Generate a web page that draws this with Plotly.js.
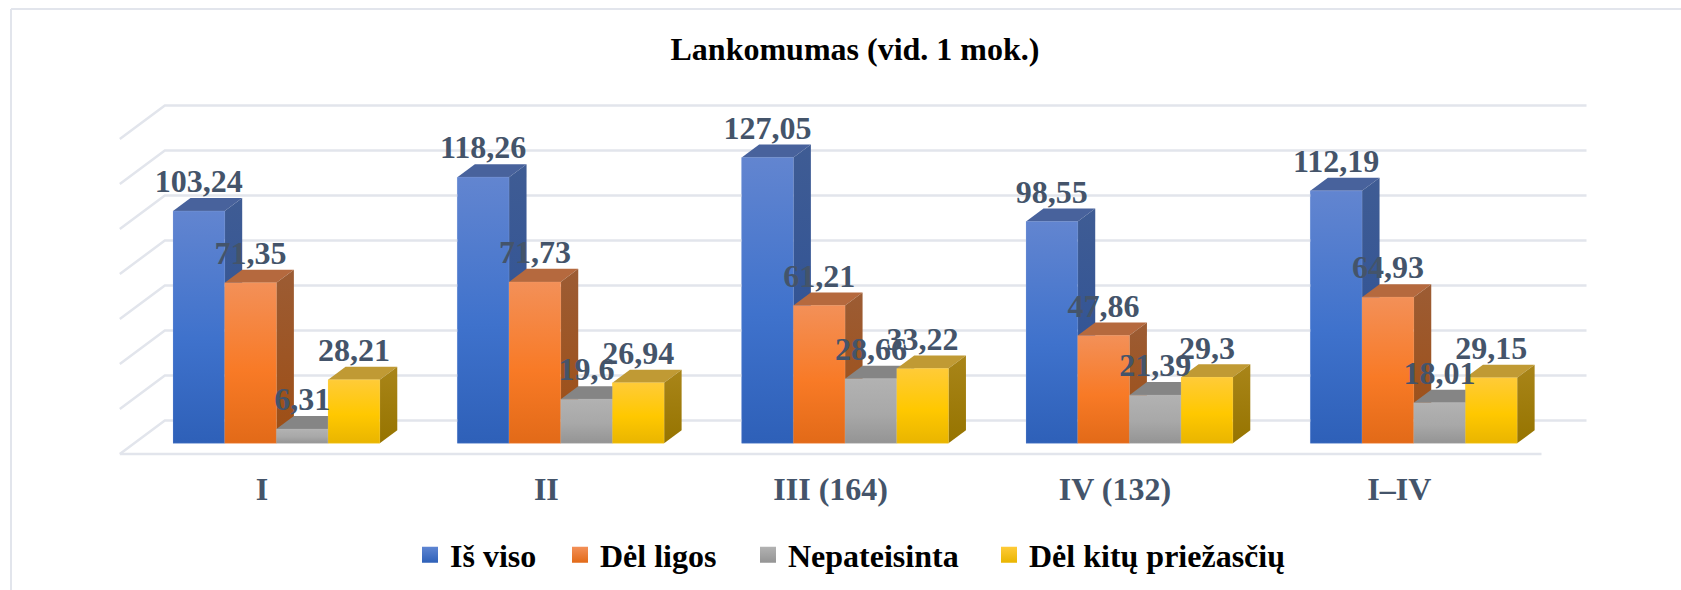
<!DOCTYPE html>
<html><head><meta charset="utf-8">
<script src="https://cdn.plot.ly/plotly-3.0.1.min.js"></script>
<style>html,body{margin:0;padding:0;background:#fff}</style></head>
<body><div id="chart" style="width:1681px;height:590px"></div>
<script>
const categories = ["I","II","III (164)","IV (132)","I–IV"];
const isViso = [103.24,118.26,127.05,98.55,112.19];
const delLigos = [71.35,71.73,61.21,47.86,64.93];
const nepateisinta = [6.31,19.6,28.66,21.39,18.01];
const delKitu = [28.21,26.94,33.22,29.3,29.15];
const gridValues = [0,20,40,60,80,100,120,140];
const seriesNames = ["Iš viso","Dėl ligos","Nepateisinta","Dėl kitų priežasčių"];

const seriesValues = [isViso,delLigos,nepateisinta,delKitu];
const styles = [
 {front:["#6285D0","#3F72CC","#2E60B8"],side:["#3F5C94","#2A4F96"],top:"#48629C",edge:"rgba(170,190,230,0.35)",legend:["#5E85D2","#2E60B8"]},
 {front:["#F39058","#F87A26","#E26A18"],side:["#9C5C34","#9E4E14"],top:"#B5693E",edge:"rgba(250,190,150,0.3)",legend:["#F39058","#E26A18"]},
 {front:["#B2B2B2","#A8A8A8","#949494"],side:["#7C7C7C","#6A6A6A"],top:"#858585",edge:"rgba(205,205,205,0.3)",legend:["#B2B2B2","#949494"]},
 {front:["#FFCB38","#FFC800","#E9B500"],side:["#A98519","#967400"],top:"#C09A34",edge:"rgba(255,225,130,0.35)",legend:["#FFCB38","#E9B500"]}
];
const LABEL="#44546A", GRID="#E2E5EC", SERIF='"Liberation Serif","Times New Roman",serif';
// oblique projection constants (data units)
const wallDx=0.15826, wallDy=14.89, barW=0.1818, d1=0.32, d2=0.709;
const px=(x,d)=>x+d*wallDx, py=(v,d)=>v+d*wallDy;
const traces=[];
// gridlines
{
 const gx=[],gy=[]; const x0=-0.5, x1=4.5;
 gridValues.forEach(v=>{gx.push(px(x0,0),px(x0,1),px(x1,1),null);gy.push(py(v,0),py(v,1),py(v,1),null);});
 gx.push(x0,x1);gy.push(0,0);
 traces.push({type:'scatter',mode:'lines',x:gx,y:gy,line:{color:GRID,width:2.5},showlegend:false,hoverinfo:'skip'});
}
// data bars (front faces)
seriesValues.forEach((vals,s)=>{
 traces.push({type:'bar',name:seriesNames[s],x:vals.map((_,i)=>px(i-2*barW+(s+.5)*barW,d1)),y:vals,base:vals.map(()=>py(0,d1)),
  width:barW,marker:{color:styles[s].front[1],line:{width:0}},showlegend:false,hoverinfo:'skip'});
});
const poly=(xs,ys,fill,line)=>Object.assign({type:'scatter',mode:'lines',x:[...xs,xs[0]],y:[...ys,ys[0]],fill:'toself',line:line||{width:0},showlegend:false,hoverinfo:'skip'},fill);
const vgrad=(stops)=>({fillgradient:{type:'vertical',colorscale:stops}, fillcolor:stops[0][1]});
categories.forEach((c,i)=>{
 seriesValues.forEach((vals,s)=>{
  const v=vals[i], st=styles[s];
  const L=i-2*barW+s*barW, R=L+barW;
  // top
  traces.push(poly([px(L,d1),px(R,d1),px(R,d2),px(L,d2)],[py(v,d1),py(v,d1),py(v,d2),py(v,d2)],{fillcolor:st.top}));
  // side
  traces.push(poly([px(R,d1),px(R,d2),px(R,d2),px(R,d1)],[py(0,d1),py(0,d2),py(v,d2),py(v,d1)],vgrad([[0,st.side[1]],[1,st.side[0]]])));
  // front
  traces.push(poly([px(L,d1),px(R,d1),px(R,d1),px(L,d1)],[py(0,d1),py(0,d1),py(v,d1),py(v,d1)],vgrad([[0,st.front[2]],[0.45,st.front[1]],[1,st.front[0]]]),{width:0.6,color:st.edge}));
 });
});
// value labels on top of everything
const lx=[],ly=[],lt=[];
seriesValues.forEach((vals,s)=>vals.forEach((v,i)=>{
 lx.push(px(i-2*barW+(s+.5)*barW,d1)); ly.push(py(v,d2)-1); lt.push(String(v).replace('.',','));
}));
traces.push({type:'scatter',mode:'text',x:lx,y:ly,text:lt,textposition:'top center',cliponaxis:false,
 textfont:{family:SERIF,size:32,color:LABEL,weight:700},showlegend:false,hoverinfo:'skip'});
// legend carriers
const legendIds=['legend','legend2','legend3','legend4'];
seriesNames.forEach((n,s)=>{
 traces.push({type:'scatter',mode:'markers',name:n,x:[null],y:[null],legend:legendIds[s],
  marker:{symbol:'square',size:16,color:styles[s].legend[0],gradient:{type:'vertical',color:styles[s].legend[1]}}});
});
const legendLeft=[410,560,748,989];
const layout={
 width:1681,height:590,paper_bgcolor:'#fff',plot_bgcolor:'#fff',barmode:'overlay',showlegend:true,hovermode:false,
 margin:{l:100,r:81,t:60,b:120},
 title:{text:'<b>Lankomumas (vid. 1 mok.)</b>',x:855/1681,xanchor:'center',y:1-49/590,yanchor:'middle',font:{family:SERIF,size:32,color:'#000'}},
 xaxis:{type:'linear',range:[-0.5697,4.7057],tickmode:'array',tickvals:categories.map((_,i)=>i),ticktext:categories.map(c=>'<b>'+c+'</b>'),
  showgrid:false,zeroline:false,showline:false,ticks:'',ticklabelstandoff:-3,tickfont:{family:SERIF,size:32,color:LABEL},fixedrange:true},
 yaxis:{range:[-7.11,175.11],visible:false,fixedrange:true},
 shapes:[
  {type:'line',xref:'paper',yref:'paper',x0:(11-100)/1500,x1:(1681-100)/1500,y0:(470-9)/410,y1:(470-9)/410,line:{color:GRID,width:2}},
  {type:'line',xref:'paper',yref:'paper',x0:(11-100)/1500,x1:(11-100)/1500,y0:(470-9)/410,y1:(470-590)/410,line:{color:GRID,width:2}}
 ]
};
legendIds.forEach((id,s)=>{
 layout[id]={orientation:'h',xref:'container',yref:'container',x:legendLeft[s]/1681,xanchor:'left',y:1-555/590,yanchor:'middle',
  bgcolor:'rgba(0,0,0,0)',font:{family:SERIF,size:32,color:'#000',weight:700},itemclick:false,itemdoubleclick:false};
});
Plotly.newPlot('chart',traces,layout,{displayModeBar:false,staticPlot:true});
</script></body></html>
